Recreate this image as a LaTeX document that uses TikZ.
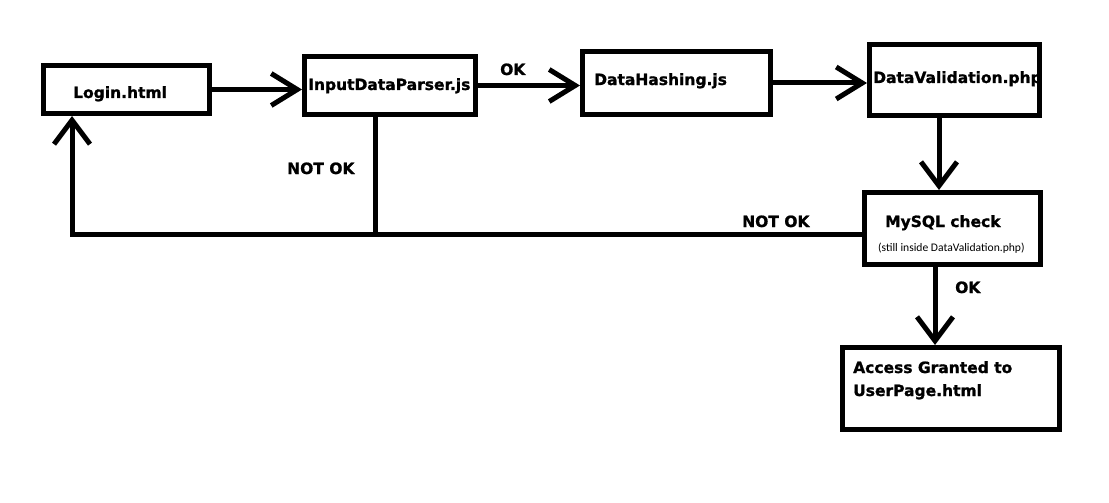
\documentclass[tikz,border=0pt]{standalone}
\usepackage{fontspec}
\setmainfont{DejaVu Sans}[BoldFeatures={FakeBold=1.2}]
\newfontfamily\notefont{Carlito}
\usetikzlibrary{arrows.meta}
\begin{document}
\begin{tikzpicture}[x=1pt,y=-1pt,
  box/.style={draw=black,line width=5pt,line join=miter,fill=white,inner sep=0pt,outer sep=2.5pt},
  lbl/.style={inner sep=0pt,anchor=base west,font=\fontsize{15.5}{18}\selectfont\bfseries},
  note/.style={inner sep=0pt,anchor=base west,font=\notefont\fontsize{11.6}{14}\selectfont},
  conn/.style={line width=5pt,line cap=butt},
  arr/.style={conn,-{Straight Barb[length=26pt,width=32pt,line cap=butt]}},
  varr/.style={conn,-{Straight Barb[length=24pt,width=36pt,line cap=butt]}}]
\fill[white] (0,0) rectangle (1109,503);
\useasboundingbox (0,0) rectangle (1109,503);
% boxes
\node[box,minimum width=166pt,minimum height=48pt] (login) at (126.5,89.5) {};
\node[box,minimum width=171pt,minimum height=58pt] (idp) at (390,85.5) {};
\node[box,minimum width=188pt,minimum height=63pt] (dh) at (676.5,83) {};
\node[box,minimum width=170pt,minimum height=71pt] (dv) at (954.5,80) {};
\node[box,minimum width=176pt,minimum height=72pt] (sql) at (952.5,228.5) {};
\node[box,minimum width=217pt,minimum height=82pt] (acc) at (951,388.5) {};
% texts
\node[lbl] (tlogin) at (73,98) {Login.html};
\node[lbl] (tidp) at (308,90) {InputDataParser.js};
\node[lbl] (tdh) at (594,85) {DataHashing.js};
\node[lbl] (tdv) at (873,83) {DataValidation.php};
\node[lbl] (tsql) at (885,227) {MySQL check};
\node[note] (tnote) at (878,251.5) {(still inside DataValidation.php)};
\node[lbl] (tacc1) at (853,373) {Access Granted to};
\node[lbl] (tacc2) at (853,396) {UserPage.html};
\node[lbl] (ok1) at (500,75) {OK};
\node[lbl] (ok2) at (955,293) {OK};
\node[lbl] (nok1) at (287,174) {NOT OK};
\node[lbl] (nok2) at (742,227) {NOT OK};
% connectors
\coordinate (corner) at (72,234);
\coordinate (join) at (375,234);
\draw[arr] (login.east) -- (login.east -| idp.west);
\draw[arr] (idp.east) -- (idp.east -| dh.west);
\draw[arr] (dh.east) -- (dh.east -| dv.west);
\draw[varr] ([xshift=-15.5pt]dv.south) -- ([xshift=-15.5pt]dv.south |- sql.north);
\draw[varr] ([xshift=-17.5pt]sql.south) -- ([xshift=-17.5pt]sql.south |- acc.north);
\draw[conn] (join |- idp.south) -- (join);
\draw[varr,line join=miter] (corner -| sql.west) -- (corner) -- (corner |- login.south);
\end{tikzpicture}
\end{document}
